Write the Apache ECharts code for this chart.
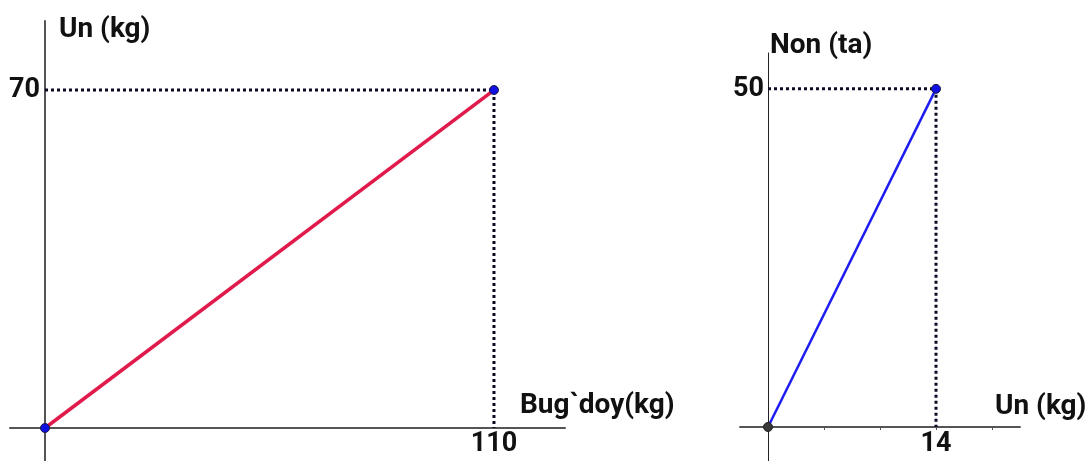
<!DOCTYPE html>
<html>
<head>
<meta charset="utf-8">
<script src="https://cdn.jsdelivr.net/npm/echarts@6/dist/echarts.min.js"></script>
<style>
  html, body { margin: 0; padding: 0; background: #fff; }
  #chart { width: 1092px; height: 461px; }
</style>
</head>
<body>
<div id="chart"></div>
<script>
// Left plot: wheat (Bug`doy) to flour (Un), in kg
const wheatKg = [0, 110];
const flourKg = [0, 70];
// Right plot: flour (Un, kg) to bread (Non, pieces)
const flourRightKg = [0, 14];
const breadCount = [0, 50];

// Tick labels shown on each axis
const leftXLabels = [110];
const leftYLabels = [70];
const rightXLabels = [14];
const rightYLabels = [50];
const rightXTicks = [14 / 3, 28 / 3, 14, 56 / 3];

// Axis ranges (plot area starts at the origin; the axis lines run a bit past it)
const leftRange = { xMin: -8.57, xMax: 127.4, yMin: -6.83, yMax: 84.3 };
const rightRange = { xMin: -2.333, xMax: 21, yMin: -5.03, yMax: 55.3 };

const FONT = 'Roboto';
const labelStyle = { fontFamily: FONT, fontWeight: 'bold', fontSize: 27, color: '#111' };
const titleFont = 'bold 28px ' + FONT;

const pairs = (xs, ys) => xs.map((x, i) => [x, ys[i]]);
const guide = (x, y) => [[0, y], [x, y], [x, 0]];

const leftPts = pairs(wheatKg, flourKg);
const rightPts = pairs(flourRightKg, breadCount);
const leftEnd = leftPts[leftPts.length - 1];
const rightEnd = rightPts[rightPts.length - 1];

const noGrid = { containLabel: false, outerBoundsMode: 'none' };

// Axes that only carry the crossing lines (drawn through zero)
const lineAxis = (gridIndex, min, max, color, width) => ({
  type: 'value', gridIndex, min, max,
  splitLine: { show: false },
  axisLine: { onZero: true, lineStyle: { color, width } },
  axisTick: { show: false },
  axisLabel: { show: false }
});
// Axes that carry the labels, with the plot origin at their corner
const labelAxis = (gridIndex, max, labels, margin, extra) => Object.assign({
  type: 'value', gridIndex, min: 0, max,
  splitLine: { show: false },
  axisLine: { show: false },
  axisTick: { show: false },
  axisLabel: { customValues: labels, margin, ...labelStyle }
}, extra || {});

const dotted = {
  type: 'line', symbol: 'none', silent: true, z: 2,
  lineStyle: { color: '#0b0b24', width: 3, type: [3, 3] }
};

const chart = echarts.init(document.getElementById('chart'), null, { renderer: 'canvas' });
chart.setOption({
  animation: false,
  backgroundColor: '#fff',
  grid: [
    { left: 10, top: 21, width: 555, height: 440, ...noGrid },
    { left: 45, top: 21, width: 520, height: 407, ...noGrid },
    { left: 740, top: 53, width: 280, height: 408, ...noGrid },
    { left: 768, top: 53, width: 252, height: 374, ...noGrid }
  ],
  xAxis: [
    lineAxis(0, leftRange.xMin, leftRange.xMax, '#555', 2),
    labelAxis(1, leftRange.xMax, leftXLabels, 3),
    lineAxis(2, rightRange.xMin, rightRange.xMax, '#555', 2),
    labelAxis(3, rightRange.xMax, rightXLabels, 4, {
      axisTick: { show: true, customValues: rightXTicks, length: 3, lineStyle: { color: '#555', width: 1 } }
    })
  ],
  yAxis: [
    lineAxis(0, leftRange.yMin, leftRange.yMax, '#555', 2),
    labelAxis(1, leftRange.yMax, leftYLabels, 5),
    lineAxis(2, rightRange.yMin, rightRange.yMax, '#222', 1),
    labelAxis(3, rightRange.yMax, rightYLabels, 4)
  ],
  graphic: [
    { type: 'text', x: 59, y: 30, style: { text: 'Un (kg)', font: titleFont, fill: '#111', verticalAlign: 'middle' } },
    { type: 'text', x: 520, y: 406, style: { text: 'Bug`doy(kg)', font: titleFont, fill: '#111', verticalAlign: 'middle' } },
    { type: 'text', x: 770, y: 46, style: { text: 'Non (ta)', font: titleFont, fill: '#111', verticalAlign: 'middle' } },
    { type: 'text', x: 995, y: 407, style: { text: 'Un (kg)', font: titleFont, fill: '#111', verticalAlign: 'middle' } }
  ],
  series: [
    { ...dotted, xAxisIndex: 1, yAxisIndex: 1, data: guide(leftEnd[0], leftEnd[1]) },
    { ...dotted, xAxisIndex: 3, yAxisIndex: 3, data: guide(rightEnd[0], rightEnd[1]) },
    {
      type: 'line', xAxisIndex: 1, yAxisIndex: 1, z: 3,
      data: leftPts,
      lineStyle: { color: '#e01a4b', width: 3.5 },
      symbol: 'circle', symbolSize: 9, showSymbol: true,
      itemStyle: { color: '#1010e0', borderColor: '#1a1a40', borderWidth: 1 }
    },
    {
      type: 'line', xAxisIndex: 3, yAxisIndex: 3, z: 3,
      data: rightPts.map((p, i) => i === 0
        ? { value: p, itemStyle: { color: '#3a3a3a', borderColor: '#222' } }
        : p),
      lineStyle: { color: '#1d1df2', width: 2.5 },
      symbol: 'circle', symbolSize: 9, showSymbol: true,
      itemStyle: { color: '#1010e0', borderColor: '#1a1a40', borderWidth: 1 }
    }
  ]
});
</script>
</body>
</html>
